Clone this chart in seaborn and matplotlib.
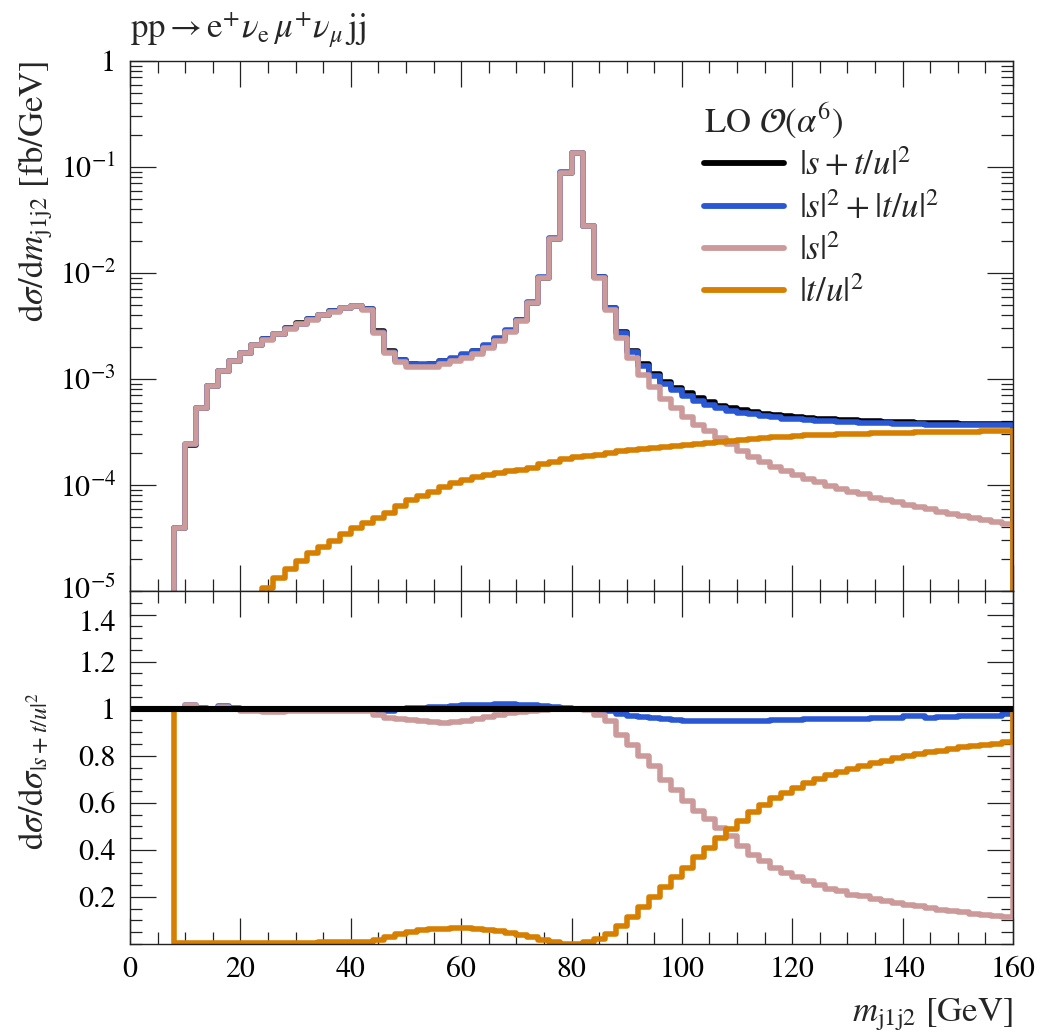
import numpy as np
import pandas as pd
import matplotlib
matplotlib.use("Agg")
import matplotlib.pyplot as plt
import matplotlib.transforms as mtrans
import seaborn as sns
from matplotlib.ticker import MultipleLocator, FixedLocator, FuncFormatter, LogLocator, NullFormatter

sns.set_theme(style="ticks")
plt.rcParams["font.family"] = ["STIXGeneral", "DejaVu Sans"]
plt.rcParams["mathtext.fontset"] = "stix"

# ---------------- data ----------------
bin_lo = np.arange(0, 160, 2)  # 80 bins of 2 GeV, 0..160

# |s+t/u|^2  (full LO, fb/GeV)
total = [
    0, 0, 0, 0,
    3.95e-5, 2.38e-4, 5.3e-4, 8.6e-4, 1.18e-3, 1.47e-3, 1.76e-3, 2.1e-3,
    2.38e-3, 2.67e-3, 3.02e-3, 3.34e-3, 3.67e-3, 4.02e-3, 4.38e-3, 4.71e-3,
    4.93e-3, 4.55e-3, 2.81e-3, 1.82e-3, 1.51e-3, 1.38e-3, 1.37e-3, 1.39e-3,
    1.47e-3, 1.56e-3, 1.68e-3, 1.82e-3, 2.04e-3, 2.37e-3, 2.85e-3, 3.57e-3,
    5.25e-3, 9.0e-3, 2.11e-2, 8.87e-2, 1.36e-1, 2.78e-2, 9.2e-3, 4.7e-3,
    2.75e-3, 1.85e-3, 1.38e-3, 1.12e-3, 9.3e-4, 8.2e-4, 7.3e-4, 6.55e-4,
    6.05e-4, 5.62e-4, 5.3e-4, 5.08e-4, 4.88e-4, 4.72e-4, 4.57e-4, 4.46e-4,
    4.37e-4, 4.3e-4, 4.23e-4, 4.17e-4, 4.12e-4, 4.07e-4, 4.03e-4, 3.99e-4,
    3.96e-4, 3.93e-4, 3.9e-4, 3.88e-4, 3.86e-4, 3.84e-4, 3.82e-4, 3.8e-4,
    3.79e-4, 3.78e-4, 3.77e-4, 3.76e-4,
]

# ratio (|s|^2 + |t/u|^2) / |s+t/u|^2
ratio_sum = [
    1, 1, 1, 1,
    1.0, 1.016, 1.002, 1.0, 1.01, 1.003, 0.995, 0.993,
    0.991, 0.991, 0.993, 0.996, 0.997, 0.997, 0.996, 0.998,
    0.998, 0.998, 0.99, 0.992, 0.997, 1.002, 1.004, 1.006,
    1.007, 1.01, 1.014, 1.016, 1.017, 1.018, 1.018, 1.016,
    1.014, 1.01, 1.006, 1.002, 1.0, 1.0, 0.995, 0.988,
    0.978, 0.97, 0.965, 0.962, 0.955, 0.951, 0.948, 0.946,
    0.947, 0.948, 0.948, 0.948, 0.949, 0.949, 0.95, 0.95,
    0.953, 0.954, 0.955, 0.956, 0.957, 0.957, 0.958, 0.96,
    0.961, 0.961, 0.97, 0.969, 0.962, 0.965, 0.966, 0.967,
    0.967, 0.968, 0.97, 0.979,
]

# ratio |s|^2 / |s+t/u|^2
ratio_s = [
    1, 1, 1, 1,
    1.0, 1.015, 1.0, 0.998, 1.008, 1.0, 0.99, 0.988,
    0.986, 0.985, 0.988, 0.99, 0.99, 0.99, 0.988, 0.99,
    0.99, 0.988, 0.972, 0.962, 0.955, 0.95, 0.946, 0.942,
    0.94, 0.943, 0.948, 0.955, 0.963, 0.972, 0.98, 0.986,
    0.992, 0.996, 0.998, 0.999, 0.998, 0.993, 0.975, 0.946,
    0.889, 0.847, 0.797, 0.755, 0.698, 0.656, 0.606, 0.564,
    0.53, 0.495, 0.457, 0.415, 0.38, 0.351, 0.323, 0.302,
    0.285, 0.266, 0.252, 0.235, 0.224, 0.21, 0.203, 0.191,
    0.181, 0.174, 0.167, 0.16, 0.153, 0.146, 0.139, 0.135,
    0.129, 0.125, 0.12, 0.115,
]

# ratio |t/u|^2 / |s+t/u|^2
ratio_tu = [
    1, 1, 1, 1,
    0.0025, 0.0025, 0.0026, 0.0028, 0.003, 0.0033, 0.0036, 0.004,
    0.0045, 0.005, 0.0053, 0.0057, 0.0062, 0.0065, 0.0068, 0.0074,
    0.0079, 0.0096, 0.0175, 0.03, 0.042, 0.052, 0.058, 0.062,
    0.065, 0.067, 0.067, 0.065, 0.061, 0.055, 0.0475, 0.039,
    0.0278, 0.0175, 0.0078, 0.002, 0.00135, 0.0068, 0.021, 0.043,
    0.076, 0.115, 0.158, 0.198, 0.243, 0.285, 0.325, 0.37,
    0.41, 0.45, 0.49, 0.522, 0.56, 0.59, 0.62, 0.643,
    0.665, 0.683, 0.7, 0.717, 0.732, 0.745, 0.757, 0.768,
    0.779, 0.79, 0.8, 0.807, 0.814, 0.822, 0.829, 0.836,
    0.84, 0.847, 0.851, 0.857,
]

labels = [r"$|s+t/u|^2$", r"$|s|^2+|t/u|^2$", r"$|s|^2$", r"$|t/u|^2$"]
colors = ["#000000", "#2a57d4", "#cc9a9a", "#d67f00"]

# ---------------- build step tables ----------------
total_a = np.array(total, dtype=float)
ratios = [np.ones(len(bin_lo)), np.array(ratio_sum), np.array(ratio_s), np.array(ratio_tu)]
x_steps = np.append(bin_lo, [160, 162])

top_frames, bot_frames = [], []
for lab, r in zip(labels, ratios):
    vals = r * total_a
    top_frames.append(pd.DataFrame({"x": x_steps, "y": np.append(vals, [0, 0]), "series": lab}))
    bot_frames.append(pd.DataFrame({"x": x_steps, "y": np.append(r, [1, 1]), "series": lab}))
top_df = pd.concat(top_frames, ignore_index=True)
bot_df = pd.concat(bot_frames, ignore_index=True)

# ---------------- figure ----------------
W, H = 1046, 1033
fig = plt.figure(figsize=(W / 100, H / 100), dpi=100)
L, R = 130 / W, 1013 / W
ax1 = fig.add_axes([L, 1 - 591 / H, R - L, (591 - 61) / H])
ax2 = fig.add_axes([L, 1 - 944 / H, R - L, (944 - 591) / H], sharex=ax1)

lw = 4.0
sns.lineplot(data=top_df, x="x", y="y", hue="series", hue_order=labels,
             palette=colors, estimator=None, errorbar=None, sort=True,
             drawstyle="steps-post", linewidth=lw, ax=ax1)
# ratio panel: reference line drawn last (on top)
order_bot = labels[1:] + labels[:1]
for lab in order_bot:
    sns.lineplot(data=bot_df[bot_df["series"] == lab], x="x", y="y",
                 color=colors[labels.index(lab)], estimator=None, errorbar=None,
                 drawstyle="steps-post", linewidth=lw + (0.4 if lab == labels[0] else 0),
                 ax=ax2, legend=False)

ax1.set_yscale("log", nonpositive="clip")
ax1.set_ylim(1e-5, 1)
ax1.set_xlim(0, 160)
ax2.set_ylim(0, 1.5)

fs_tick = 21.5
fs_lab = 25
tick_kw = dict(direction="in", top=True, right=True, colors="#222222", labelcolor="black")
for ax in (ax1, ax2):
    ax.tick_params(which="major", length=19, width=0.9, **tick_kw)
    ax.tick_params(which="minor", length=8.5, width=0.9, **tick_kw)
    ax.tick_params(axis="both", labelsize=fs_tick)
    for sp in ax.spines.values():
        sp.set_linewidth(1.0)
        sp.set_color("#222222")
    ax.xaxis.set_major_locator(MultipleLocator(20))
    ax.xaxis.set_minor_locator(MultipleLocator(5))
    ax.set_xlabel("")
    ax.set_ylabel("")

ax1.yaxis.set_major_locator(LogLocator(base=10, numticks=10))
ax1.yaxis.set_minor_locator(LogLocator(base=10, subs=np.arange(2, 10), numticks=20))
ax1.yaxis.set_minor_formatter(NullFormatter())
ax1.yaxis.set_major_formatter(FuncFormatter(
    lambda v, p: "1" if abs(v - 1) < 1e-9 else r"$10^{%d}$" % int(round(np.log10(v)))))
ax1.tick_params(axis="x", labelbottom=False)
ax1.tick_params(axis="y", pad=10)

ax2.yaxis.set_major_locator(FixedLocator([0.2, 0.4, 0.6, 0.8, 1.0, 1.2, 1.4]))
ax2.yaxis.set_minor_locator(MultipleLocator(0.05))
ax2.yaxis.set_major_formatter(FuncFormatter(lambda v, p: "1" if abs(v - 1) < 1e-9 else "%.1f" % v))
ax2.tick_params(axis="y", pad=10)
ax2.tick_params(axis="x", pad=9)

# labels
ax1.set_ylabel(r"$\mathrm{d}\sigma/\mathrm{d}m_{\mathrm{j1j2}}$ [fb/GeV]", fontsize=fs_lab, loc="top")
ax1.yaxis.set_label_coords(-0.085, 1.0)
ax2.set_ylabel(r"$\mathrm{d}\sigma/\mathrm{d}\sigma_{|s+t/u|^2}$", fontsize=fs_lab)
ax2.yaxis.set_label_coords(-0.088, 0.49)
ax2.set_xlabel(r"$m_{\mathrm{j1j2}}$ [GeV]", fontsize=fs_lab, loc="right", va="center")
ax2.xaxis.set_label_coords(1.0, -0.2)

ax1.text(0.0, 1 + (61 - 38) / 530, r"$\mathrm{pp}\rightarrow\mathrm{e}^{+}\nu_{\mathrm{e}}\,\mu^{+}\nu_{\mu}\,\mathrm{jj}$",
         transform=ax1.transAxes, fontsize=fs_lab, va="baseline", ha="left")

# legend
handles, labs = ax1.get_legend_handles_labels()
leg = ax1.legend(handles, labs, loc="upper left", bbox_to_anchor=(0.650, 0.925),
                 title=r"LO $\mathcal{O}(\alpha^6)$", title_fontsize=fs_lab, fontsize=fs_lab,
                 frameon=False, handlelength=2.3, handletextpad=0.45, labelspacing=0.26,
                 borderpad=0, borderaxespad=0)
leg._legend_box.align = "left"
for h in leg.legend_handles:
    h.set_linewidth(4.2)

# separate the touching "10^-5" and "1.4" labels slightly
fig.canvas.draw()
for tk in ax2.yaxis.get_major_ticks():
    if abs(tk.get_loc() - 1.4) < 1e-9:
        tk.label1.set_transform(tk.label1.get_transform() +
                                mtrans.ScaledTranslation(0, -6 / 100, fig.dpi_scale_trans))
for tk in ax1.yaxis.get_major_ticks():
    if abs(tk.get_loc() - 1e-5) < 1e-12:
        tk.label1.set_transform(tk.label1.get_transform() +
                                mtrans.ScaledTranslation(0, 3 / 100, fig.dpi_scale_trans))

fig.savefig("out.png", dpi=100)
